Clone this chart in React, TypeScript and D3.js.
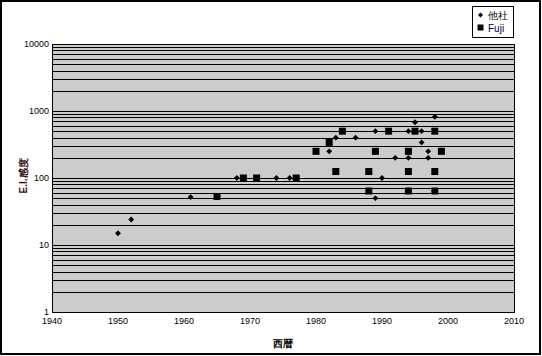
import React from "react";
import * as d3 from "d3";

const otherYears = [1950, 1952, 1961, 1968, 1974, 1976, 1982, 1983, 1986, 1989, 1989, 1990, 1992, 1994, 1994, 1995, 1996, 1996, 1997, 1997, 1998];
const otherValues = [15, 24, 52, 100, 100, 100, 250, 400, 400, 500, 50, 100, 200, 500, 200, 680, 500, 340, 250, 200, 820];

const fujiYears = [1965, 1969, 1971, 1977, 1980, 1982, 1983, 1984, 1988, 1988, 1989, 1991, 1994, 1994, 1994, 1995, 1998, 1998, 1998, 1999];
const fujiValues = [53, 100, 100, 100, 250, 340, 125, 500, 125, 64, 250, 500, 250, 125, 64, 500, 500, 125, 64, 250];

const xTicks = [1940, 1950, 1960, 1970, 1980, 1990, 2000, 2010];
const yTicks = [1, 10, 100, 1000, 10000];
const seriesNames = ["他社", "Fuji"];
const xTitle = "西暦";
const yTitle = "E.I.感度";

const W = 542;
const H = 356;
const L = 52, R = 514, T = 44, B = 312;

export default function App() {
  const x = d3.scaleLinear().domain([1940, 2010]).range([L, R]);
  const y = d3.scaleLog().domain([1, 10000]).range([B, T]);

  const gridVals: number[] = [];
  for (let d = 1; d < 10000; d *= 10) {
    for (let k = 1; k <= 9; k++) gridVals.push(d * k);
  }
  gridVals.push(10000);

  const font = "'Liberation Sans', Arial, sans-serif";
  const diamond = d3.symbol().type(d3.symbolDiamond2).size(22);
  const legendDiamond = d3.symbol().type(d3.symbolDiamond2).size(16);

  return (
    <>
      <style>{"body{margin:0}"}</style>
      <svg width={W} height={H} style={{ display: "block" }} fontFamily={font}>
        <rect x={0} y={0} width={W} height={H} fill="#fff" />
        <rect x={1} y={1} width={539} height={353} fill="none" stroke="#000" strokeWidth={2} />
        <rect x={L} y={T} width={R - L} height={B - T} fill="#cccccc" />
        {gridVals.map((v, i) => {
          const yy = Math.round(y(v)) + 0.5;
          return <line key={i} x1={L} x2={R} y1={yy} y2={yy} stroke="#000" strokeWidth={1} />;
        })}
        <rect x={L + 0.5} y={T + 0.5} width={R - L} height={B - T} fill="none" stroke="#000" strokeWidth={1} />
        {yTicks.map((v) => (
          <text key={v} x={L - 3} y={y(v)} dy="0.35em" textAnchor="end" fontSize={9} fill="#000">
            {v}
          </text>
        ))}
        {xTicks.map((v) => (
          <text key={v} x={x(v)} y={324} textAnchor="middle" fontSize={9} fill="#000">
            {v}
          </text>
        ))}
        <text x={(L + R) / 2} y={347} textAnchor="middle" fontSize={10} fontWeight="bold" fill="#000">
          {xTitle}
        </text>
        <text
          transform={`translate(27,${176}) rotate(-90)`}
          textAnchor="middle"
          fontSize={10}
          fontWeight="bold"
          fill="#3a1010"
        >
          {yTitle}
        </text>
        {otherYears.map((yr, i) => (
          <path key={"o" + i} d={diamond() as string} transform={`translate(${x(yr)},${y(otherValues[i])})`} fill="#000" />
        ))}
        {fujiYears.map((yr, i) => (
          <rect key={"f" + i} x={x(yr) - 3.5} y={y(fujiValues[i]) - 3.5} width={7} height={7} fill="#000" />
        ))}
        <rect x={472.5} y={6.5} width={41} height={31} fill="#fff" stroke="#000" strokeWidth={1} />
        <path d={legendDiamond() as string} transform="translate(480.5,15)" fill="#000" />
        <rect x={477.5} y={24.5} width={6} height={6} fill="#000" />
        <text x={488} y={15} dy="0.35em" fontSize={10} fill="#000">{seriesNames[0]}</text>
        <text x={488} y={28} dy="0.35em" fontSize={10} fill="#000033">{seriesNames[1]}</text>
      </svg>
    </>
  );
}
